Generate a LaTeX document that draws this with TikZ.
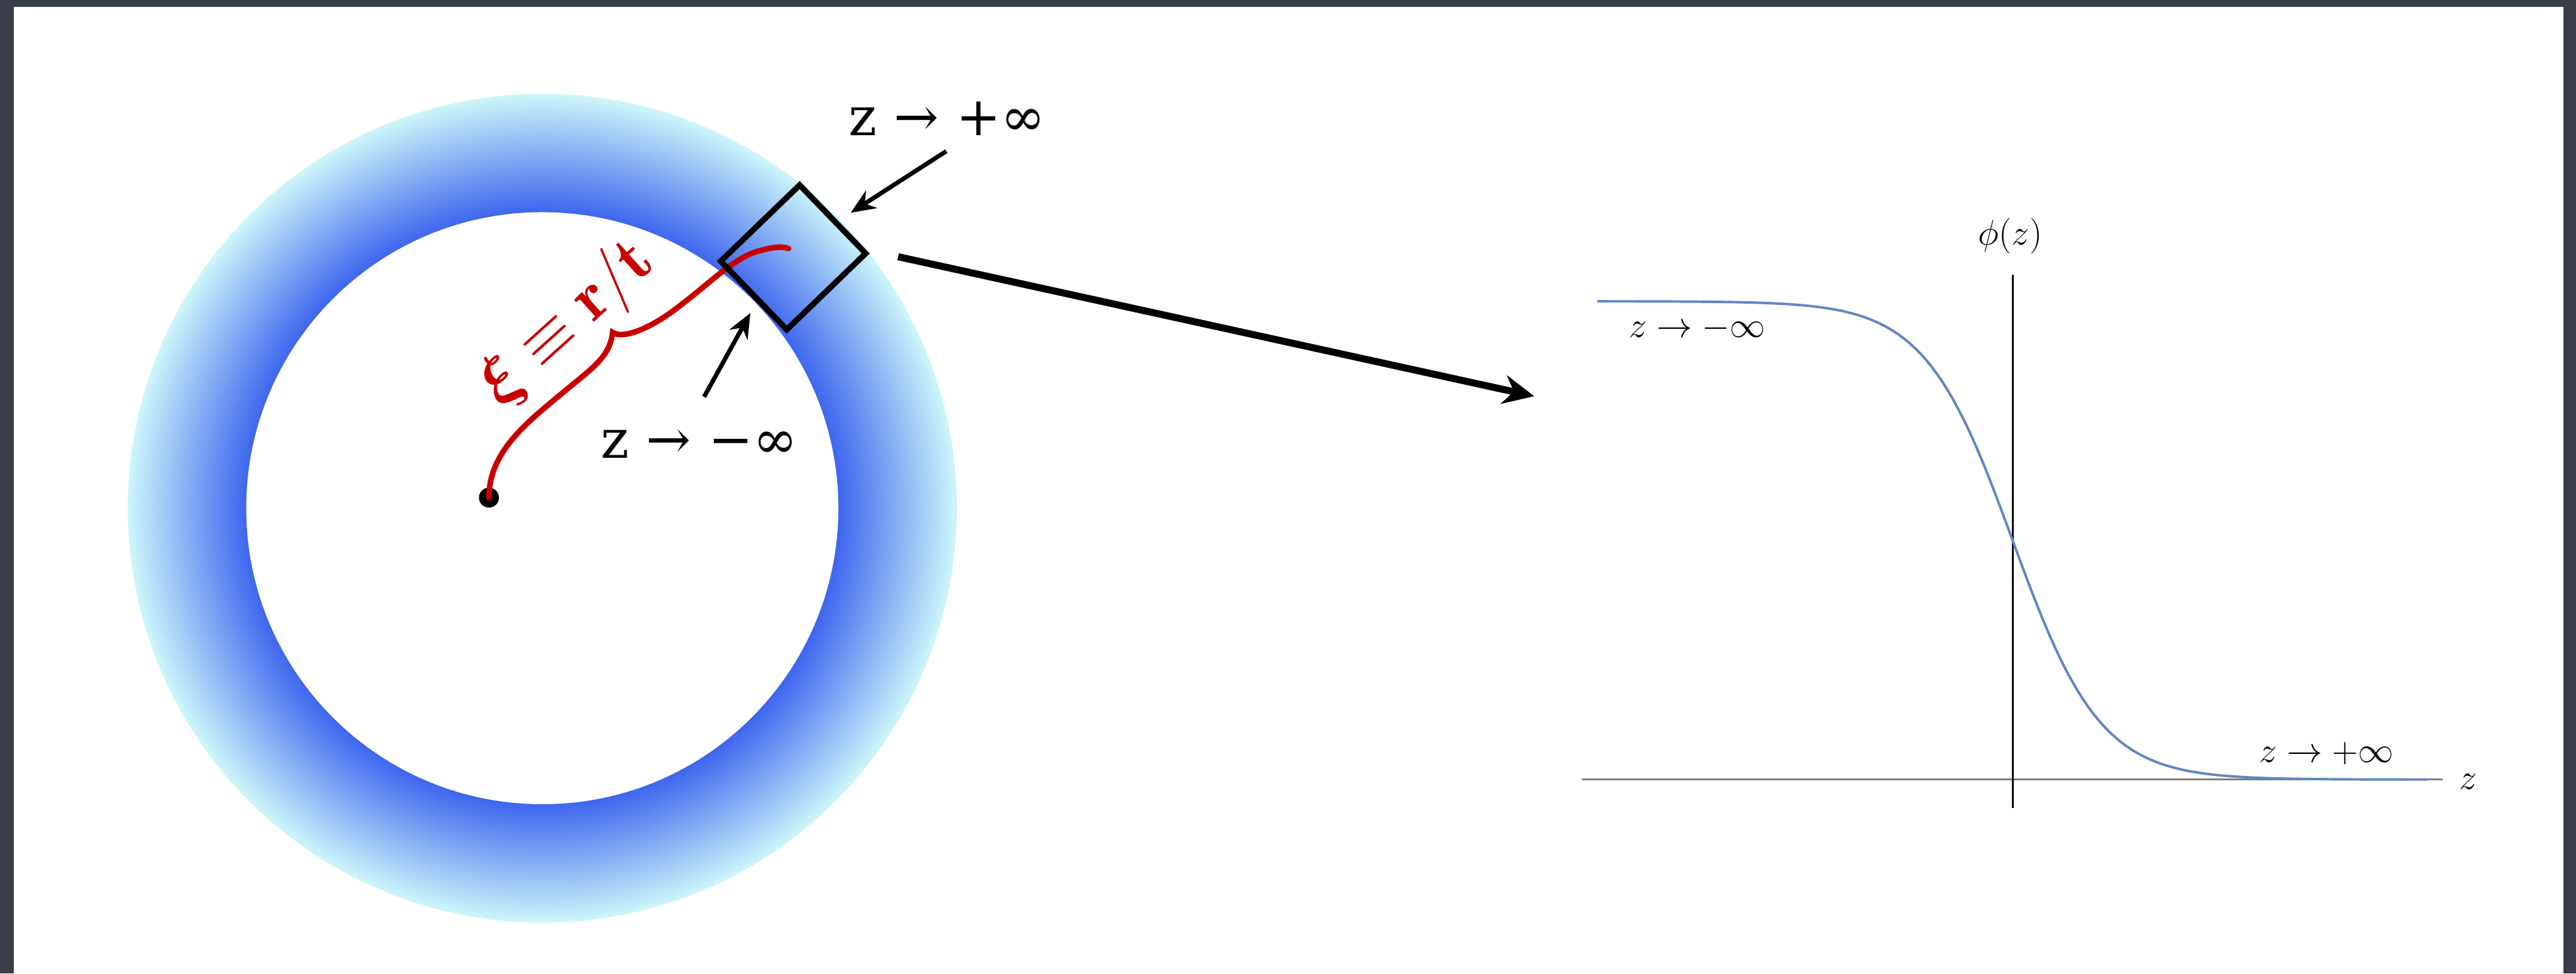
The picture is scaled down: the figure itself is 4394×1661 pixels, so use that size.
\documentclass[tikz,border=0pt]{standalone}
\usepackage{amsmath,amssymb}
\usepackage{fontspec}
\newfontfamily\labelserif{DejaVu Serif}
\usepackage{xcolor}
\definecolor{ringblue}{RGB}{62,102,238}
\definecolor{ringcyan}{RGB}{205,246,250}
\definecolor{slate}{RGB}{58,62,75}
\definecolor{bracered}{RGB}{200,0,0}
\definecolor{curveblue}{RGB}{98,134,194}
\usepackage{tikz}
\usetikzlibrary{arrows.meta, positioning, calc}
\pgfdeclareradialshading{ringglow}{\pgfpoint{0bp}{0bp}}{color(0bp)=(ringblue); color(17.86bp)=(ringblue); color(25bp)=(ringcyan); color(50bp)=(ringcyan)}

\begin{document}
\begin{tikzpicture}[
    x=0.01cm, y=-0.01cm,
    >=Stealth,
    font=\fontsize{17}{20}\selectfont,
    biglabel/.style={font=\labelserif\fontsize{26}{30}\selectfont, inner sep=0pt},
    limitarrow/.style={->, line width=2.1pt, >={Stealth[length=12pt, width=10pt]}},
    zoomarrow/.style={->, line width=3.4pt, >={Stealth[length=15pt, width=14pt]}},
    boxnode/.style={draw, line width=2.8pt, rotate=44, minimum width=1.87cm, minimum height=1.62cm, inner sep=0pt},
    axisline/.style={line width=0.8pt}
  ]

  \fill[slate] (0,0) rectangle (4394,1661);
  \fill[white] (24,12) rectangle (4372,1661);
  \useasboundingbox (0,0) rectangle (4394,1661);

  \coordinate (ctr) at (925,867);
  \shade[shading=ringglow] (ctr) circle (707);
  \fill[white] (ctr) circle (505);

  \node (origin) [fill, circle, inner sep=0pt, minimum size=0.34cm] at (834,849) {};
  \coordinate (bracetip) at (1045,567);
  \coordinate (braceend) at (1345,424);
  \draw[bracered, line width=2.7pt, line cap=round] (origin.center)
    .. controls (834,770) and (900,720) .. (960,670)
    .. controls (1010,628) and (1040,610) .. (bracetip)
    .. controls (1060,578) and (1100,565) .. (1146,532)
    .. controls (1210,485) and (1250,440) .. (1295,428)
    .. controls (1320,421) and (1335,420) .. (braceend);
  \node (ratio) [text=bracered, rotate=42, scale=1.3, inner sep=1pt, font=\fontsize{25}{30}\selectfont] at (968,552) {$\boldsymbol{\xi}\equiv\mathbf{r}/\mathbf{t}$};

  \node (zoombox) [boxnode] at (1353,439) {};

  \node (plusinf) [biglabel] at (1616,202) {z → +∞};
  \node (minusinf) [biglabel] at (1193,757) {z → −∞};
  \coordinate (plustail) at (1614,258);
  \coordinate (plustip) at (1451,363);
  \coordinate (minustail) at (1201,677);
  \coordinate (minustip) at (1280,534);
  \draw[limitarrow] (plustail) -- (plustip);
  \draw[limitarrow] (minustail) -- (minustip);

  \coordinate (zoomtail) at (1532,438);
  \coordinate (zoomhead) at (2617,676);
  \draw[zoomarrow] (zoomtail) -- (zoomhead);

  \node (philabel) at (3429,403) {$\phi(z)$};
  \node (zaxis) at (4210,1334) {$z$};
  \draw[axisline, gray] (2698,1330) -- (4167,1330);
  \draw[axisline] (3433,469) -- (3433,1378);
  \draw[curveblue, line width=1.2pt] plot[domain=2725:4140, samples=150] (\x, {922+408*tanh((\x-3433)/150)});
  \node (leftlimit) at (2895,560) {$z\to-\infty$};
  \node (rightlimit) at (3968,1286) {$z\to+\infty$};

\end{tikzpicture}
\end{document}
